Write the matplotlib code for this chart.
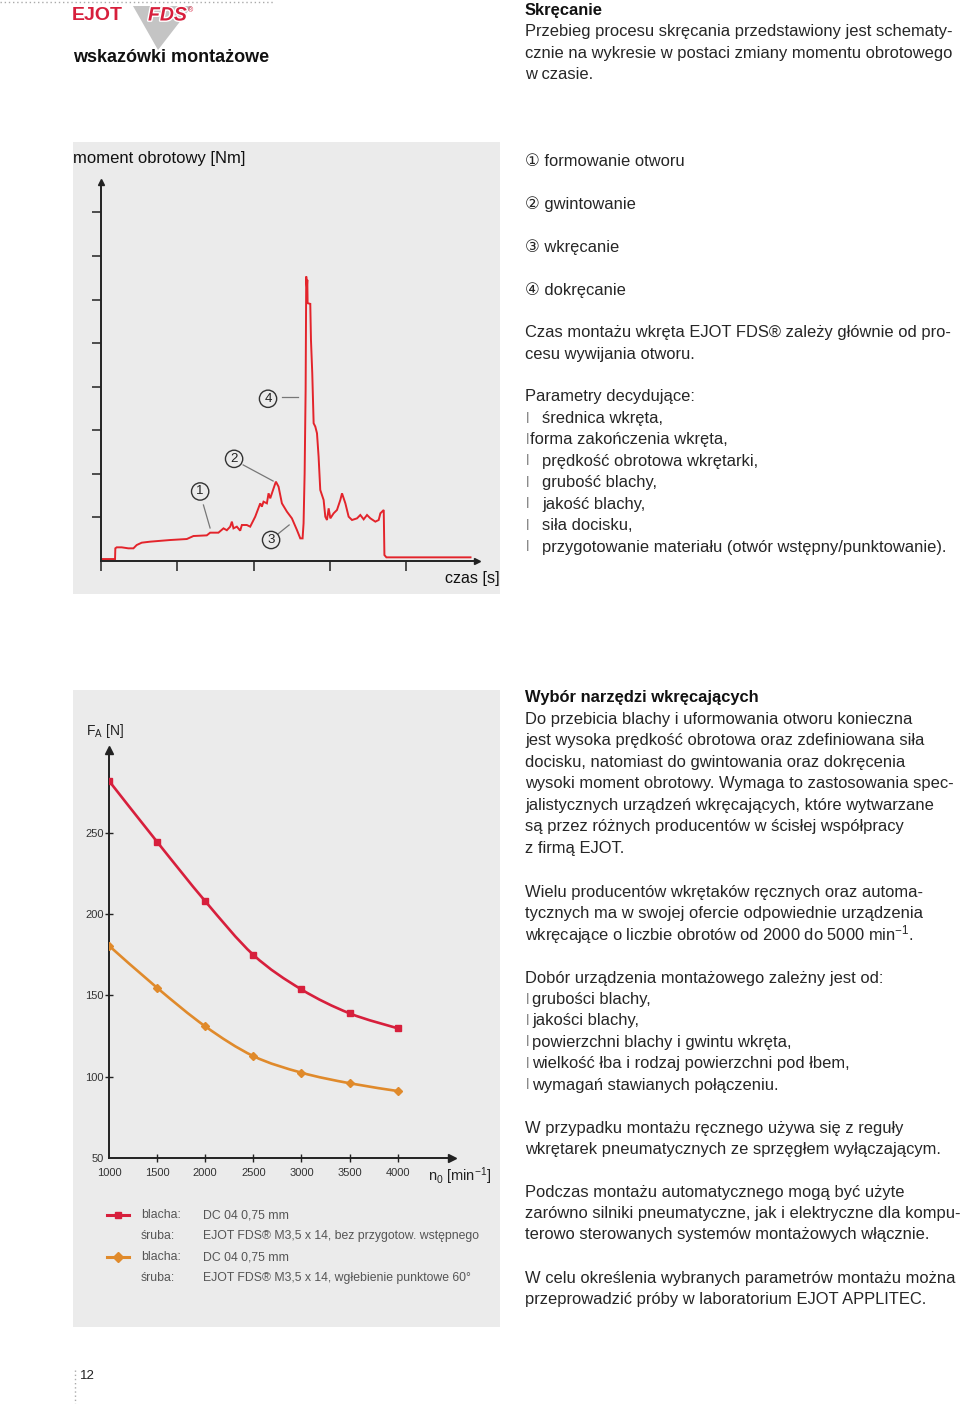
import numpy as np
import matplotlib
matplotlib.use('Agg')
import matplotlib.pyplot as plt
import matplotlib.patheffects as pe
from matplotlib.path import Path
from matplotlib.patches import PathPatch, Rectangle, Polygon
from matplotlib.lines import Line2D

plt.rcParams['font.family'] = ['Liberation Sans', 'DejaVu Sans']
plt.rcParams['mathtext.fontset'] = 'custom'
plt.rcParams['mathtext.rm'] = 'Liberation Sans'
plt.rcParams['mathtext.it'] = 'Liberation Sans:italic'

W, H = 960, 1404

# ---- torque curve (schematic, axis units = tick spacing)
czas = [0, 0.184, 0.188, 0.206, 0.271, 0.359, 0.425, 0.468, 0.534, 0.643, 0.906,
        1.125, 1.212, 1.387, 1.431, 1.540, 1.606, 1.650, 1.694, 1.716, 1.737, 1.781,
        1.825, 1.847, 1.912, 1.956, 2.022, 2.088, 2.109, 2.131, 2.175, 2.197, 2.219,
        2.263, 2.293, 2.328, 2.372, 2.438, 2.503, 2.569, 2.613, 2.643, 2.656, 2.670,
        2.683, 2.691, 2.700, 2.705, 2.709, 2.744, 2.753, 2.770, 2.788, 2.810, 2.832,
        2.853, 2.875, 2.919, 2.941, 2.963, 2.985, 3.007, 3.050, 3.094, 3.138, 3.160,
        3.204, 3.247, 3.291, 3.357, 3.400, 3.444, 3.488, 3.532, 3.597, 3.641, 3.663,
        3.707, 3.716, 3.742, 3.969, 4.845]
moment = [0.038, 0.038, 0.284, 0.307, 0.307, 0.284, 0.284, 0.360, 0.414, 0.437, 0.475,
          0.498, 0.567, 0.582, 0.644, 0.644, 0.743, 0.700, 0.782, 0.897, 0.743, 0.782,
          0.690, 0.820, 0.820, 0.782, 1.011, 1.318, 1.241, 1.356, 1.318, 1.548, 1.433,
          1.663, 1.816, 1.701, 1.318, 1.126, 0.973, 0.705, 0.513, 0.513, 0.858, 2.008,
          3.923, 6.529, 6.299, 6.452, 5.916, 5.900, 5.073, 4.307, 3.157, 3.080, 2.927,
          2.391, 1.625, 1.395, 1.011, 0.935, 1.203, 0.973, 1.088, 1.165, 1.395, 1.548,
          1.318, 1.011, 0.935, 0.973, 1.050, 0.950, 1.050, 0.973, 0.897, 0.935, 1.088,
          1.165, 0.130, 0.077, 0.077, 0.077]

# ---- axial force vs speed
n0 = [1000, 1500, 2000, 2500, 3000, 3500, 4000]
fa_bez = [282, 244.5, 208, 175, 153.7, 139, 129.8]
fa_wgl = [180.6, 154.7, 131, 112.7, 102.5, 96, 91.2]
fa_ticks = [50, 100, 150, 200, 250]

RED = '#d71f3c'
CURVE_RED = '#e3242b'
ORANGE = '#e08a2b'
PANEL = '#ebebeb'
TXT = '#262626'


def P(x, y):
    return x / W, 1 - y / H


fig = plt.figure(figsize=(W / 100, H / 100), dpi=100)
fig.patch.set_facecolor('white')

# panels
for (x0, y0, x1, y1) in [(73, 142, 500, 594), (73, 690, 500, 1327)]:
    fig.patches.append(Rectangle(P(x0, y1), (x1 - x0) / W, (y1 - y0) / H,
                                 transform=fig.transFigure, fc=PANEL, ec='none', zorder=-10))

# dotted rules
fig.add_artist(Line2D([0, 275 / W], [1 - 1.5 / H] * 2, color='#aaaaaa', lw=1, ls=(0, (1, 2))))
fig.add_artist(Line2D([75 / W] * 2, [1 - 1370 / H, 0], color='#aaaaaa', lw=1, ls=(0, (1, 2))))

# logo
fig.patches.append(Polygon([P(133, 6), P(192, 6), P(158, 50)], closed=True,
                           transform=fig.transFigure, fc='#c4c4c4', ec='none', zorder=-5))
fig.text(*P(72, 16), 'EJOT', color=RED, fontsize=14, fontweight='bold',
         va='center', ha='left')
t = fig.text(*P(148, 16), 'FDS', color=RED, fontsize=14, fontweight='bold', style='italic',
             va='center', ha='left')
t.set_path_effects([pe.withStroke(linewidth=2, foreground='white')])
fig.text(*P(188, 11), '®', color=RED, fontsize=5, va='center', ha='left')
fig.text(*P(73, 57), 'wskazówki montażowe', color='#111111', fontsize=13, fontweight='bold',
         va='center', ha='left')

# ---------- upper chart
fig.text(*P(73, 159), 'moment obrotowy [Nm]', color='#111111', fontsize=12, va='center')
fig.text(*P(500, 578), 'czas [s]', color='#111111', fontsize=11.6, va='center', ha='right')

ax1 = fig.add_axes([101 / W, 1 - 560.7 / H, (477 - 101) / W, (560.7 - 182) / H])
ax1.set_facecolor('none')
ax1.plot(czas, moment, color=CURVE_RED, lw=1.4, solid_joinstyle='miter')
ax1.set_xlim(0, 4.93)
ax1.set_ylim(0, 8.7)
for s in ['top', 'right']:
    ax1.spines[s].set_visible(False)
for s in ['left', 'bottom']:
    ax1.spines[s].set_linewidth(1.4)
    ax1.spines[s].set_color('#222222')
ax1.set_xticks([0, 1, 2, 3, 4])
ax1.set_yticks([1, 2, 3, 4, 5, 6, 7, 8])
ax1.tick_params(axis='x', direction='out', length=7.5, width=1.1, color='#222222', labelbottom=False)
ax1.tick_params(axis='y', direction='out', length=6.5, width=1.1, color='#222222', labelleft=False)
ax1.plot(1, 0, marker='>', ms=5, color='#222222', transform=ax1.transAxes, clip_on=False)
ax1.plot(0, 1, marker='^', ms=5, color='#222222', transform=ax1.transAxes, clip_on=False)

callouts = [('1', (1.30, 1.59), (1.343, 1.28), (1.43, 0.752)),
            ('2', (1.745, 2.34), (1.864, 2.20), (2.257, 1.83)),
            ('3', (2.23, 0.476), (2.32, 0.614), (2.467, 0.821)),
            ('4', (2.19, 3.72), (2.375, 3.76), (2.585, 3.76))]
for lab, c, a, b in callouts:
    ax1.text(c[0], c[1], lab, fontsize=9.5, ha='center', va='center', color='#222222',
             bbox=dict(boxstyle='circle,pad=0.2', fc='none', ec='#333333', lw=1.0))
    ax1.plot([a[0], b[0]], [a[1], b[1]], color='#777777', lw=0.9)

# ---------- lower chart
ax2 = fig.add_axes([109 / W, 1 - 1158 / H, (451.7 - 109) / W, (1158 - 750) / H])
ax2.set_facecolor('none')


def smooth(xs, ys):
    pts = np.column_stack([xs, ys]).astype(float)
    verts = [pts[0]]
    codes = [Path.MOVETO]
    n = len(pts)
    for i in range(n - 1):
        p0 = pts[max(i - 1, 0)]
        p1 = pts[i]
        p2 = pts[i + 1]
        p3 = pts[min(i + 2, n - 1)]
        verts += [p1 + (p2 - p0) / 6, p2 - (p3 - p1) / 6, p2]
        codes += [Path.CURVE4] * 3
    return Path(verts, codes)


ax2.add_patch(PathPatch(smooth(n0, fa_bez), fill=False, ec=RED, lw=1.9, zorder=3))
ax2.add_patch(PathPatch(smooth(n0, fa_wgl), fill=False, ec=ORANGE, lw=1.9, zorder=3))
ax2.plot(n0, fa_bez, ls='none', marker='s', ms=4.8, color=RED, zorder=4)
ax2.plot(n0, fa_wgl, ls='none', marker='D', ms=4.4, color=ORANGE, zorder=4)

ax2.set_xlim(1000, 4562)
ax2.set_ylim(50, 301)
for s in ['top', 'right']:
    ax2.spines[s].set_visible(False)
for s in ['left', 'bottom']:
    ax2.spines[s].set_linewidth(1.4)
    ax2.spines[s].set_color('#222222')
ax2.set_xticks(n0)
ax2.set_xticklabels([str(v) for v in n0])
ax2.set_yticks(fa_ticks)
ax2.set_yticklabels([str(v) for v in fa_ticks])
ax2.tick_params(axis='x', direction='inout', length=6, width=1.0, color='#222222',
                labelsize=8, labelcolor='#333333', pad=4)
ax2.tick_params(axis='y', direction='inout', length=6, width=1.0, color='#222222',
                labelsize=8, labelcolor='#333333', pad=1)
ax2.xaxis.get_major_ticks()[0].tick1line.set_visible(False)
ax2.yaxis.get_major_ticks()[0].tick1line.set_visible(False)
ax2.plot(1, 0, marker='>', ms=6, color='#222222', transform=ax2.transAxes, clip_on=False)
ax2.plot(0, 1, marker='^', ms=6, color='#222222', transform=ax2.transAxes, clip_on=False)

fig.text(*P(86, 731), r'F$_\mathrm{A}$ [N]', color='#222222', fontsize=10, va='center')
fig.text(*P(428, 1176), r'n$_\mathrm{0}$ [min$^\mathrm{-1}$]', color='#222222', fontsize=10.5,
         va='center')

# legend
leg_rows = [(1215, 'blacha:', 'DC 04 0,75 mm'),
            (1236, 'śruba:', 'EJOT FDS® M3,5 x 14, bez przygotow. wstępnego'),
            (1257, 'blacha:', 'DC 04 0,75 mm'),
            (1278, 'śruba:', 'EJOT FDS® M3,5 x 14, wgłebienie punktowe 60°')]
for (y, a, b) in leg_rows:
    fig.text(*P(141, y), a, color='#555555', fontsize=8.8, va='center')
    fig.text(*P(203, y), b, color='#555555', fontsize=8.8, va='center')
for y, col, mk in [(1215, RED, 's'), (1257, ORANGE, 'D')]:
    fig.add_artist(Line2D([107 / W, 118 / W, 129 / W], [1 - y / H] * 3, color=col, lw=2.2,
                          marker=mk, ms=5, markevery=[1]))

# ---------- right column text
X = 525
FS = 11.9
LS = 21.45


def block(y0, lines, bold_first=False):
    for i, line in enumerate(lines):
        w = 'bold' if (bold_first and i == 0) else 'normal'
        fig.text(*P(X, y0 + i * LS), line, color=TXT if w == 'normal' else '#111111',
                 fontsize=FS, fontweight=w, va='center')


def bullets(y0, items, offsets):
    for i, (item, off) in enumerate(zip(items, offsets)):
        y = y0 + i * LS
        fig.text(*P(526, y), 'l', color='#8a8a8a', fontsize=FS - 1, va='center')
        fig.text(*P(X + off, y), item, color=TXT, fontsize=FS, va='center')


block(10.5, ['Skręcanie',
             'Przebieg procesu skręcania przedstawiony jest schematy-',
             'cznie na wykresie w postaci zmiany momentu obrotowego',
             'w czasie.'], bold_first=True)

for i, s in enumerate(['① formowanie otworu', '② gwintowanie', '③ wkręcanie', '④ dokręcanie']):
    fig.text(*P(X, 161 + i * 43), s, color=TXT, fontsize=FS, va='center')

block(333, ['Czas montażu wkręta EJOT FDS® zależy głównie od pro-',
            'cesu wywijania otworu.'])
block(397, ['Parametry decydujące:'])
bullets(418.5, ['średnica wkręta,', 'forma zakończenia wkręta,', 'prędkość obrotowa wkrętarki,',
                'grubość blachy,', 'jakość blachy,', 'siła docisku,',
                'przygotowanie materiału (otwór wstępny/punktowanie).'],
        [17, 5, 17, 17, 17, 17, 17])

block(698, ['Wybór narzędzi wkręcających',
            'Do przebicia blachy i uformowania otworu konieczna',
            'jest wysoka prędkość obrotowa oraz zdefiniowana siła',
            'docisku, natomiast do gwintowania oraz dokręcenia',
            'wysoki moment obrotowy. Wymaga to zastosowania spec-',
            'jalistycznych urządzeń wkręcających, które wytwarzane',
            'są przez różnych producentów w ścisłej współpracy',
            'z firmą EJOT.'], bold_first=True)
block(892, ['Wielu producentów wkrętaków ręcznych oraz automa-',
            'tycznych ma w swojej ofercie odpowiednie urządzenia',
            r'wkręcające o liczbie obrotów od 2000 do 5000 min$^\mathrm{-1}$.'])
block(978, ['Dobór urządzenia montażowego zależny jest od:'])
bullets(999.5, ['grubości blachy,', 'jakości blachy,', 'powierzchni blachy i gwintu wkręta,',
                'wielkość łba i rodzaj powierzchni pod łbem,', 'wymagań stawianych połączeniu.'],
        [7, 7, 7, 7, 7])
block(1128, ['W przypadku montażu ręcznego używa się z reguły',
             'wkrętarek pneumatycznych ze sprzęgłem wyłączającym.'])
block(1192, ['Podczas montażu automatycznego mogą być użyte',
             'zarówno silniki pneumatyczne, jak i elektryczne dla kompu-',
             'terowo sterowanych systemów montażowych włącznie.'])
block(1278, ['W celu określenia wybranych parametrów montażu można',
             'przeprowadzić próby w laboratorium EJOT APPLITEC.'])

fig.text(*P(80, 1376), '12', color='#222222', fontsize=9.5, va='center')

fig.savefig('out.png', dpi=100)
